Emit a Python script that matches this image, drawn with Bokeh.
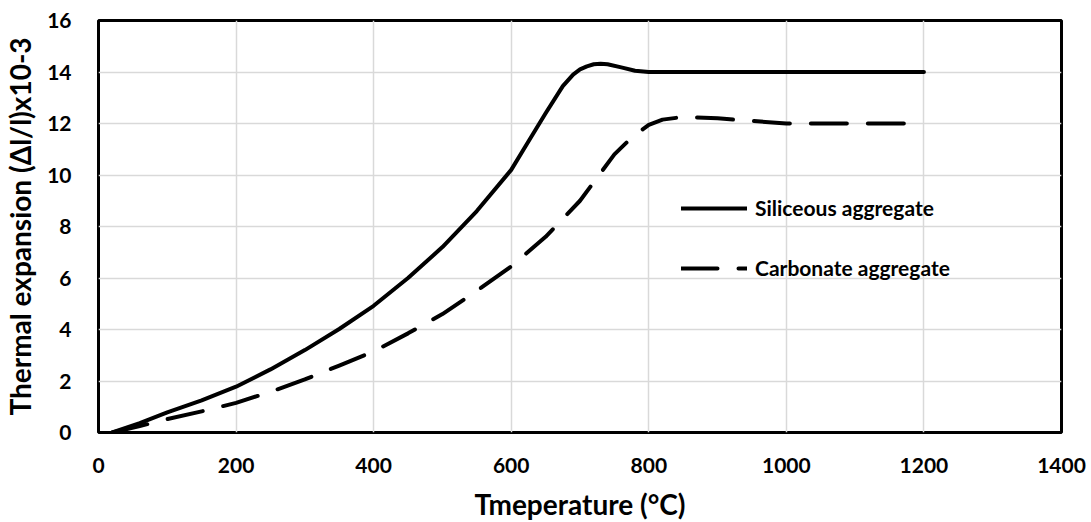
from bokeh.plotting import figure
from bokeh.models import Range1d, FixedTicker, Legend, LegendItem
from bokeh.embed import file_html
from bokeh.resources import INLINE

# Data
sil_x = [20, 60, 100, 150, 200, 250, 300, 350, 400, 450, 500, 550, 600, 625, 650, 675, 690, 700, 710, 720, 730, 740, 760, 780, 800, 1200]
sil_y = [0, 0.36, 0.78, 1.25, 1.78, 2.45, 3.2, 4.02, 4.92, 6.0, 7.2, 8.6, 10.2, 11.3, 12.4, 13.45, 13.9, 14.1, 14.22, 14.3, 14.32, 14.3, 14.18, 14.05, 14.0, 14.0]

carb_x = [20, 60, 100, 150, 200, 250, 300, 350, 400, 450, 500, 550, 600, 650, 700, 725, 750, 775, 800, 820, 840, 860, 900, 950, 1000, 1200]
carb_y = [0, 0.25, 0.52, 0.82, 1.15, 1.58, 2.06, 2.6, 3.15, 3.85, 4.6, 5.5, 6.45, 7.6, 9.0, 9.9, 10.8, 11.45, 11.95, 12.15, 12.22, 12.25, 12.2, 12.1, 12.0, 12.0]

x_ticks = [0, 200, 400, 600, 800, 1000, 1200, 1400]
y_ticks = [0, 2, 4, 6, 8, 10, 12, 14, 16]

FONT = "Lato"

p = figure(frame_width=963, frame_height=412, output_backend="svg", toolbar_location=None,
           x_range=Range1d(0, 1400), y_range=Range1d(0, 16),
           min_border_left=97, min_border_right=31, min_border_top=20, min_border_bottom=90)
p.background_fill_color = "white"
p.border_fill_color = "white"
p.outline_line_color = "black"
p.outline_line_width = 3

p.xaxis.ticker = FixedTicker(ticks=x_ticks)
p.yaxis.ticker = FixedTicker(ticks=y_ticks)
for ax in (p.xaxis[0], p.yaxis[0]):
    ax.axis_line_color = None
    ax.major_tick_line_color = None
    ax.minor_tick_line_color = None
    ax.major_label_text_font = FONT
    ax.major_label_text_font_style = "bold"
    ax.major_label_text_font_size = "21px"
    ax.major_label_text_color = "black"
    ax.axis_label_text_font = FONT
    ax.axis_label_text_font_style = "bold"
    ax.axis_label_text_font_size = "28px"
    ax.axis_label_text_color = "black"

p.xaxis.major_label_standoff = 19
p.yaxis.major_label_standoff = 21
p.xaxis.axis_label = "Tmeperature (°C)"
p.yaxis.axis_label = "Thermal expansion (Δl/l)x10-3"
p.xaxis.axis_label_standoff = 11
p.yaxis.axis_label_standoff = 7

p.xgrid.ticker = FixedTicker(ticks=x_ticks)
p.ygrid.ticker = FixedTicker(ticks=y_ticks)
p.grid.grid_line_color = "#d9d9d9"
p.grid.grid_line_width = 1.5

r1 = p.line(sil_x, sil_y, line_color="black", line_width=4, line_cap="round", line_join="round")
r2 = p.line(carb_x, carb_y, line_color="black", line_width=4, line_cap="round", line_join="round",
            line_dash="36 21")

legend = Legend(items=[LegendItem(label="Siliceous aggregate", renderers=[r1]),
                       LegendItem(label="Carbonate aggregate", renderers=[r2])],
                location=(583, 152), orientation="vertical")
legend.glyph_width = 66
legend.glyph_height = 20
legend.label_height = 20
legend.spacing = 35
legend.padding = 0
legend.margin = 0
legend.label_standoff = 8
legend.border_line_color = None
legend.background_fill_alpha = 0
legend.label_text_font = FONT
legend.label_text_font_style = "bold"
legend.label_text_font_size = "21px"
legend.label_text_color = "black"
p.add_layout(legend, "center")

open("out.html", "w").write(file_html(p, INLINE))
